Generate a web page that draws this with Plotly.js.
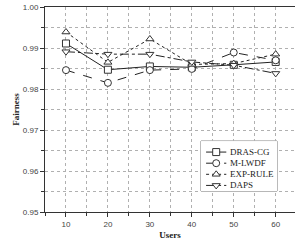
<!DOCTYPE html>
<html>
<head>
<meta charset="utf-8">
<script src="https://cdn.plot.ly/plotly-3.0.1.min.js"></script>
<style>html,body{margin:0;padding:0;background:#fff;}#chart{width:295px;height:244px;}</style>
</head>
<body>
<div id="chart"></div>
<script>
var users = [10, 20, 30, 40, 50, 60];
var seriesNames = ["DRAS-CG", "M-LWDF", "EXP-RULE", "DAPS"];
var drasCG  = [0.9911, 0.9847, 0.9855, 0.9853, 0.9859, 0.9866];
var mLWDF   = [0.9846, 0.9815, 0.9846, 0.9849, 0.9889, 0.9870];
var expRule = [0.9939, 0.9865, 0.9922, 0.9860, 0.9862, 0.9885];
var daps    = [0.9891, 0.9885, 0.9885, 0.9866, 0.9858, 0.9838];
var yTicks = [0.95, 0.96, 0.97, 0.98, 0.99, 1.00];
var yTickText = ["0.95", "0.96", "0.97", "0.98", "0.99", "1.00"];

var values = [drasCG, mLWDF, expRule, daps];
var symbols = ["square", "circle", "triangle-up", "triangle-down"];
var dashes = ["solid", "dash", "dot", "dashdot"];
var serif = "Liberation Serif, Times New Roman, serif";
var sans = "Liberation Sans, Arial, sans-serif";

var traces = values.map(function (v, i) {
  return {
    x: users, y: v, name: seriesNames[i], type: "scatter", mode: "lines+markers",
    showlegend: false,
    line: {color: "#222", width: 1, dash: dashes[i]},
    marker: {symbol: symbols[i], size: 7, color: "#fff", line: {color: "#333", width: 1}}
  };
});

// Compact legend drawn on its own small axes
var rows = [1, 2, 3, 4];
var annotations = [];
seriesNames.forEach(function (name, i) {
  traces.push({
    x: [0.067, 0.333], y: [rows[i], rows[i]], xaxis: "x2", yaxis: "y2", mode: "lines",
    line: {color: "#222", width: 1, dash: dashes[i]}, showlegend: false, hoverinfo: "skip"
  });
  traces.push({
    x: [0.2], y: [rows[i]], xaxis: "x2", yaxis: "y2", mode: "markers",
    marker: {symbol: symbols[i], size: 7, color: "#fff", line: {color: "#333", width: 1}},
    showlegend: false, hoverinfo: "skip"
  });
  annotations.push({
    x: 0.36, y: rows[i], xref: "x2", yref: "y2", text: name, showarrow: false,
    xanchor: "left", yanchor: "middle",
    font: {family: serif, size: 9, color: "#222"}
  });
});

var gridCol = "#b0b0b0";
var layout = {
  width: 295, height: 244,
  margin: {l: 45, r: 0, t: 7, b: 32},
  paper_bgcolor: "#fff", plot_bgcolor: "#fff",
  showlegend: false,
  annotations: annotations,
  shapes: [{
    type: "rect", xref: "x2 domain", yref: "y2 domain", x0: 0, x1: 1, y0: 0, y1: 1,
    line: {color: "#777", width: 1}, fillcolor: "#fff", layer: "below"
  }],
  xaxis: {
    range: [5, 64.6], tickvals: users, ticktext: users.map(String),
    showline: true, linecolor: "#333", linewidth: 1, mirror: true,
    ticks: "outside", ticklen: 4, tickcolor: "#333",
    showgrid: true, gridcolor: gridCol, griddash: "dot", gridwidth: 1,
    minor: {dtick: 5, tick0: 5, ticks: "outside", ticklen: 3, tickcolor: "#333", showgrid: true, gridcolor: gridCol, griddash: "dot"},
    zeroline: false,
    tickfont: {family: sans, size: 8, color: "#444"},
    title: {text: "<b>Users</b>", font: {family: serif, size: 9, color: "#222"}, standoff: 4}
  },
  yaxis: {
    range: [0.95, 1.00], tickvals: yTicks, ticktext: yTickText,
    showline: true, linecolor: "#333", linewidth: 1, mirror: false,
    ticks: "outside", ticklen: 4, tickcolor: "#333",
    showgrid: true, gridcolor: gridCol, griddash: "dot", gridwidth: 1,
    minor: {dtick: 0.005, tick0: 0.95, ticks: "outside", ticklen: 3, tickcolor: "#333", showgrid: true, gridcolor: gridCol, griddash: "dot"},
    zeroline: false,
    tickfont: {family: sans, size: 8, color: "#444"},
    title: {text: "<b>Fairness</b>", font: {family: serif, size: 9, color: "#222"}, standoff: 1}
  },
  xaxis2: {domain: [0.624, 0.928], range: [0, 1], anchor: "y2", visible: false, fixedrange: true},
  yaxis2: {domain: [0.102, 0.346], range: [4.51, 0.01], anchor: "x2", visible: false, fixedrange: true}
};

Plotly.newPlot("chart", traces, layout, {displayModeBar: false, staticPlot: true});
</script>
</body>
</html>
